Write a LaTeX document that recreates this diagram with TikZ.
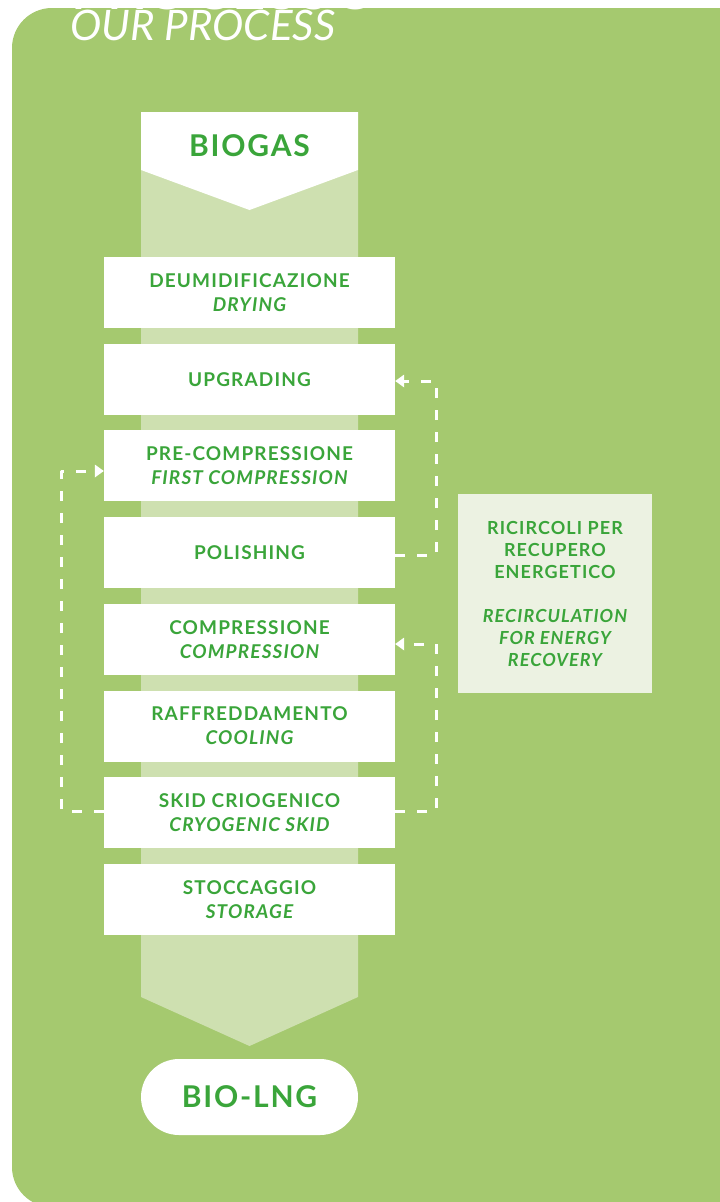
\documentclass[tikz,border=0pt]{standalone}
\usepackage{fontspec}
\setmainfont{Lato}
\newfontfamily\spacedfont{Lato}[LetterSpace=6]
\newfontfamily\widefont{Lato}[LetterSpace=6]
\usetikzlibrary{arrows.meta}
\definecolor{panelgreen}{RGB}{165,201,111}
\definecolor{bandgreen}{RGB}{206,224,176}
\definecolor{notegreen}{RGB}{236,242,226}
\definecolor{textgreen}{RGB}{58,165,58}
\begin{document}
\begin{tikzpicture}[x=1pt,y=-1pt,line join=round,
    stepbox/.style={fill=white,minimum width=291pt,minimum height=71pt,inner sep=0pt,align=center,text=textgreen,font=\spacedfont\fontsize{19}{24}\selectfont\bfseries},
    endtext/.style={inner sep=0pt,text=textgreen,font=\widefont\fontsize{30}{34}\selectfont\bfseries},
    recirc/.style={draw=white,line width=3pt,dash pattern=on 10pt off 12pt,-{Triangle[length=9pt,width=13pt,line width=0pt]}}]
    \useasboundingbox (0,0) rectangle (720,1202);
    % background panel and title
    \fill[panelgreen,rounded corners=40pt] (12,8) rectangle (770,1207);
    \node[anchor=base west,inner sep=0pt,text=white,font=\fontsize{60}{60}\selectfont] (titleit) at (70,9) {PROCESSO};
    \node[anchor=base west,inner sep=0pt,text=white,font=\fontsize{42}{42}\selectfont\itshape] (titleen) at (70,40) {OUR PROCESS};
    % flow band
    \fill[bandgreen] (141,170) -- (141,997) -- (249.5,1046) -- (358,997) -- (358,170) -- cycle;
    \fill[white] (141,112) -- (358,112) -- (358,170) -- (249.5,210) -- (141,170) -- cycle;
    \node[endtext] (biogas) at (249.5,146) {BIOGAS};
    % steps
    \node[stepbox] (drying) at (249.5,292.5) {DEUMIDIFICAZIONE\\\itshape DRYING};
    \node[stepbox] (upgrading) at (249.5,379.5) {UPGRADING};
    \node[stepbox] (precomp) at (249.5,465.5) {PRE-COMPRESSIONE\\\itshape FIRST COMPRESSION};
    \node[stepbox] (polishing) at (249.5,552.5) {POLISHING};
    \node[stepbox] (compression) at (249.5,639.5) {COMPRESSIONE\\\itshape COMPRESSION};
    \node[stepbox] (cooling) at (249.5,726) {RAFFREDDAMENTO\\\itshape COOLING};
    \node[stepbox] (skid) at (249.5,812.5) {SKID CRIOGENICO\\\itshape CRYOGENIC SKID};
    \node[stepbox] (storage) at (249.5,899.5) {STOCCAGGIO\\\itshape STORAGE};
    \node[endtext,fill=white,minimum width=217pt,minimum height=76pt,rounded corners=38pt] (biolng) at (249.5,1097) {BIO-LNG};
    % recirculation
    \node[fill=notegreen,minimum width=194pt,minimum height=199pt,inner sep=0pt,align=center,text=textgreen,font=\spacedfont\fontsize{18}{22}\selectfont\bfseries] (note) at (555,593.5)
        {RICIRCOLI PER\\RECUPERO\\ENERGETICO\\[22pt]\itshape RECIRCULATION\\\itshape FOR ENERGY\\\itshape RECOVERY};
    \draw[recirc] ([yshift=-2.5pt]polishing.east) -- ++(41,0) |- ([yshift=-1.5pt]upgrading.east);
    \draw[recirc] ([yshift=1.5pt]skid.east) -- ++(41,0) |- ([yshift=-4.5pt]compression.east);
    \draw[recirc] ([yshift=1.5pt]skid.west) -- ++(-42,0) |- ([yshift=-5.5pt]precomp.west);
\end{tikzpicture}
\end{document}
